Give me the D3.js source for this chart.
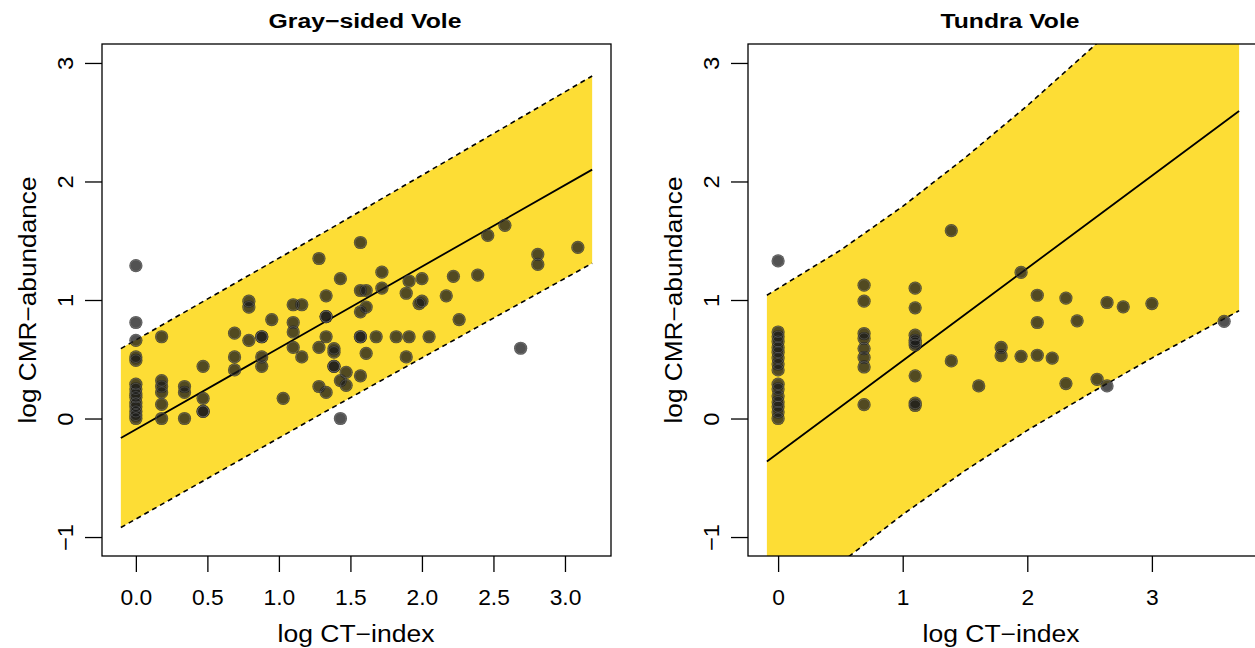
<!DOCTYPE html>
<html>
<head>
<meta charset="utf-8">
<script src="https://cdn.jsdelivr.net/npm/d3@7"></script>
<style>
  body { margin: 0; background: #fff; }
  text { font-family: "Liberation Sans", Arial, Helvetica, sans-serif; fill: #000; }
</style>
</head>
<body>
<div id="chart"></div>
<script>
// values
var grayX = [0, 0, 0, 0, 0, 0, 0, 0, 0, 0, 0, 0, 0, 0,
	0.18, 0.18, 0.18, 0.18, 0.18, 0.18,
	0.34, 0.34, 0.34,
	0.47, 0.47, 0.47, 0.47,
	0.69, 0.69, 0.69,
	0.79, 0.79, 0.79,
	0.88, 0.88, 0.88, 0.88,
	0.95, 1.03,
	1.10, 1.10, 1.10, 1.10,
	1.16, 1.16,
	1.28, 1.28, 1.28,
	1.33, 1.33, 1.33, 1.33, 1.33,
	1.385, 1.385, 1.385, 1.385,
	1.43, 1.43, 1.43,
	1.47, 1.47,
	1.57, 1.57, 1.57, 1.57, 1.57, 1.57,
	1.61, 1.61, 1.61,
	1.68, 1.72, 1.72, 1.82,
	1.89, 1.89, 1.91, 1.91,
	1.98, 2.0, 2.0, 2.05,
	2.17, 2.22, 2.26, 2.39, 2.46, 2.58, 2.69,
	2.81, 2.81, 3.09];
var grayY = [1.29, 0.81, 0.66, 0.52, 0.49, 0.29, 0.25, 0.21, 0.18, 0.13, 0.10, 0.06, 0.03, 0.0,
	0.69, 0.32, 0.27, 0.22, 0.12, 0.0,
	0.27, 0.22, 0.0,
	0.44, 0.17, 0.06, 0.06,
	0.72, 0.52, 0.41,
	0.99, 0.94, 0.66,
	0.69, 0.69, 0.52, 0.44,
	0.835, 0.17,
	0.96, 0.81, 0.73, 0.60,
	0.96, 0.52,
	1.35, 0.60, 0.27,
	1.035, 0.86, 0.86, 0.69, 0.22,
	0.59, 0.56, 0.44, 0.44,
	1.18, 0.32, 0.0,
	0.39, 0.28,
	1.485, 1.08, 0.90, 0.69, 0.69, 0.36,
	1.08, 0.94, 0.55,
	0.69, 1.235, 1.10, 0.69,
	1.057, 0.52, 1.16, 0.69,
	0.97, 1.18, 0.99, 0.69,
	1.035, 1.20, 0.835, 1.21, 1.545, 1.63, 0.593,
	1.385, 1.30, 1.444];

var tundraX = [0, 0, 0, 0, 0, 0, 0, 0, 0, 0, 0, 0, 0, 0, 0, 0,
	0.69, 0.69, 0.69, 0.69, 0.69, 0.69, 0.69, 0.69,
	1.10, 1.10, 1.10, 1.10, 1.10, 1.10, 1.10, 1.10, 1.10,
	1.39, 1.39, 1.61, 1.79, 1.79,
	1.95, 1.95, 2.08, 2.08, 2.08, 2.20,
	2.31, 2.31, 2.40, 2.56, 2.64, 2.64, 2.77, 3.0, 3.58];
var tundraY = [1.33, 0.73, 0.69, 0.65, 0.60, 0.56, 0.51, 0.46, 0.41, 0.29, 0.25, 0.19, 0.14, 0.10, 0.055, 0.0,
	1.125, 0.99, 0.717, 0.675, 0.59, 0.515, 0.435, 0.117,
	1.10, 0.934, 0.703, 0.66, 0.64, 0.62, 0.36, 0.13, 0.11,
	1.585, 0.486, 0.275, 0.60, 0.53,
	1.233, 0.525, 1.04, 0.81, 0.534, 0.51,
	1.016, 0.295, 0.824, 0.331, 0.979, 0.275, 0.942, 0.97, 0.82];

// fitted line and prediction band
var grayBandX = [-0.105, 1.357, 3.19];
var grayFit = [-0.165, 0.84, 2.10];
var grayLow = [-0.92, 0.08, 1.31];
var grayHigh = [0.59, 1.60, 2.89];

var tundraBandX = [-0.09, 0.5, 1.0, 1.5, 2.0, 2.5, 3.0, 3.7];
var tundraFit = [-0.362, 0.098, 0.488, 0.878, 1.268, 1.658, 2.048, 2.594];
var tundraLow = [-1.76, -1.22, -0.81, -0.44, -0.10, 0.21, 0.51, 0.91];
var tundraHigh = [1.04, 1.42, 1.79, 2.20, 2.64, 3.11, 3.59, 4.27];

var grayTicks = [0, 0.5, 1, 1.5, 2, 2.5, 3];
var tundraTicks = [0, 1, 2, 3];
var yTicks = [-1, 0, 1, 2, 3];

var titles = ["Gray\u2212sided Vole", "Tundra Vole"];
var xLabel = "log CT\u2212index";
var yLabel = "log CMR\u2212abundance";

var width = 1255, height = 648;
var top_ = 44, bottom = 556;

var svg = d3.select("#chart").append("svg")
	.attr("width", width)
	.attr("height", height);

function fmtMinus(s) { return s.replace("-", "\u2212"); }

// the original font runs a little wider than Liberation Sans
function stretch(f) {
	return function(sel) {
		sel.each(function() {
			var l = this.getComputedTextLength();
			d3.select(this)
				.attr("textLength", l * f)
				.attr("lengthAdjust", "spacingAndGlyphs");
		});
	};
}

function fixLength(len) {
	return function(sel) {
		sel.attr("textLength", len).attr("lengthAdjust", "spacingAndGlyphs");
	};
}

function drawPanel(p) {
	var g = svg.append("g");
	var bx = p.bandX;
	var r = bx[bx.length - 1] - bx[0];
	var x = d3.scaleLinear()
		.domain([bx[0] - 0.04 * r, bx[bx.length - 1] + 0.04 * r])
		.range([p.left, p.right]);
	var y = d3.scaleLinear()
		.domain([-1.16, 3.16])
		.range([bottom, top_]);

	var clipId = "clip" + p.id;
	svg.append("clipPath").attr("id", clipId)
		.append("rect")
		.attr("x", p.left).attr("y", top_)
		.attr("width", p.right - p.left).attr("height", bottom - top_);

	var band = bx.map(function(d, i) {
		return { x: d, lo: p.low[i], hi: p.high[i], fit: p.fit[i] };
	});

	var inner = g.append("g").attr("clip-path", "url(#" + clipId + ")");

	inner.append("path")
		.datum(band)
		.attr("fill", "#fddd35")
		.attr("d", d3.area()
			.x(function(d) { return x(d.x); })
			.y0(function(d) { return y(d.lo); })
			.y1(function(d) { return y(d.hi); }));

	["lo", "hi"].forEach(function(k) {
		inner.append("path")
			.datum(band)
			.attr("fill", "none")
			.attr("stroke", "#000")
			.attr("stroke-width", 1.6)
			.attr("stroke-dasharray", "5,4")
			.attr("d", d3.line()
				.x(function(d) { return x(d.x); })
				.y(function(d) { return y(d[k]); }));
	});

	inner.append("path")
		.datum(band)
		.attr("fill", "none")
		.attr("stroke", "#000")
		.attr("stroke-width", 1.8)
		.attr("d", d3.line()
			.x(function(d) { return x(d.x); })
			.y(function(d) { return y(d.fit); }));

	var pts = p.px.map(function(d, i) { return [d, p.py[i]]; });

	g.selectAll(".pt" + p.id).data(pts).enter()
		.append("circle")
		.attr("class", "pt" + p.id)
		.attr("cx", function(d) { return x(d[0]); })
		.attr("cy", function(d) { return y(d[1]); })
		.attr("r", 6.6)
		.attr("fill", "rgba(28,28,28,0.76)");

	g.selectAll(".ring" + p.id).data(pts).enter()
		.append("circle")
		.attr("class", "ring" + p.id)
		.attr("cx", function(d) { return x(d[0]); })
		.attr("cy", function(d) { return y(d[1]); })
		.attr("r", 5.6)
		.attr("fill", "none")
		.attr("stroke", "rgba(190,190,190,0.35)")
		.attr("stroke-width", 0.7);

	// box
	g.append("rect")
		.attr("x", p.left).attr("y", top_)
		.attr("width", p.right - p.left).attr("height", bottom - top_)
		.attr("fill", "none")
		.attr("stroke", "#000")
		.attr("stroke-width", 1.3);

	// x axis
	var xa = g.append("g")
		.attr("transform", "translate(0," + bottom + ")")
		.call(d3.axisBottom(x).tickValues(p.xTicks).tickSize(16).tickFormat(p.xFmt));
	xa.select(".domain").remove();
	xa.selectAll("line").attr("stroke-width", 1.3);
	xa.selectAll("text")
		.attr("y", 49).attr("dy", null)
		.style("font-size", "21.5px")
		.call(stretch(1.06));

	// y axis
	var ya = g.append("g")
		.attr("transform", "translate(" + p.left + ",0)")
		.call(d3.axisLeft(y).tickValues(yTicks).tickSize(17).tickFormat(function(d) { return fmtMinus(String(d)); }));
	ya.select(".domain").remove();
	ya.selectAll("line").attr("stroke-width", 1.3);
	ya.selectAll("text")
		.attr("x", null).attr("dy", null)
		.attr("text-anchor", "middle")
		.attr("dominant-baseline", "central")
		.attr("transform", "translate(-37,0) rotate(-90)")
		.style("font-size", "22px")
		.call(stretch(1.08));

	g.append("text")
		.attr("x", p.titleX).attr("y", 28)
		.attr("text-anchor", "middle")
		.style("font-size", "20px")
		.style("font-weight", "bold")
		.text(p.title)
		.call(fixLength(p.titleW));

	g.append("text")
		.attr("x", p.labelX).attr("y", 642)
		.attr("text-anchor", "middle")
		.style("font-size", "23px")
		.text(xLabel)
		.call(fixLength(157));

	g.append("text")
		.attr("transform", "translate(" + (p.left - 74) + "," + ((top_ + bottom) / 2) + ") rotate(-90)")
		.attr("text-anchor", "middle")
		.attr("dominant-baseline", "central")
		.style("font-size", "23px")
		.text(yLabel)
		.call(fixLength(247));
}

drawPanel({
	id: 1, left: 102, right: 611,
	bandX: grayBandX, fit: grayFit, low: grayLow, high: grayHigh,
	px: grayX, py: grayY,
	xTicks: grayTicks, xFmt: d3.format(".1f"),
	title: titles[0], titleX: 365, titleW: 193, labelX: 356
});

drawPanel({
	id: 2, left: 748, right: 1258,
	bandX: tundraBandX, fit: tundraFit, low: tundraLow, high: tundraHigh,
	px: tundraX, py: tundraY,
	xTicks: tundraTicks, xFmt: d3.format("d"),
	title: titles[1], titleX: 1010, titleW: 139, labelX: 1001
});
</script>
</body>
</html>
